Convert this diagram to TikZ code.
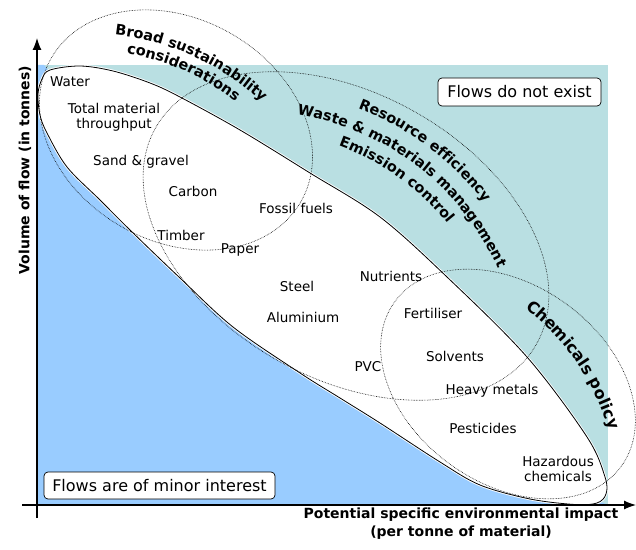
\documentclass[tikz,border=0pt]{standalone}
\usepackage{fontspec}
\setmainfont{DejaVu Sans}
\usetikzlibrary{arrows.meta,decorations.text}
\definecolor{noflow}{RGB}{185,223,226}
\definecolor{minorflow}{RGB}{153,204,255}

\begin{document}
\begin{tikzpicture}[x=1pt, y=1pt,
    item/.style={font=\fontsize{13.5}{15}\selectfont, align=center, inner sep=1pt},
    flowbox/.style={draw, fill=white, rounded corners=4pt, line width=0.7pt,
                    font=\fontsize{16}{18}\selectfont, inner sep=2pt},
    policy/.style={densely dotted, line width=0.6pt},
    axislabel/.style={font=\fontsize{14}{18}\selectfont\bfseries, align=center},
    >={Latex[length=12pt,width=9pt]}]
  \useasboundingbox (0,0) rectangle (636,549);

  % regions
  \fill[noflow] (37,44) rectangle (608,484);
  \fill[minorflow] (37,484) -- (44,484) -- (60,464) -- (596,49) -- (608,44) -- (37,44) -- cycle;

  % band of relevant flows
  \draw[fill=white, line width=0.8pt, preaction={draw=white, line width=2.6pt}]
    plot[smooth cycle, tension=0.55] coordinates {(38,455) (42,470) (50,479) (80,483)
      (113,478) (150,466) (180,452) (240,419) (310,376) (380,332) (447,272) (527,192)
      (587,112) (605,72) (606,55) (597,46) (575,44.5) (530,50) (480,64) (440,87)
      (380,126) (340,151) (300,176) (233,222) (180,271) (130,319) (100,349) (67,382)
      (47,416) (40,434)};

  % policy fields
  \draw[policy, rotate around={-30:(176,419)}] (176,419) ellipse[x radius=144, y radius=111];
  \draw[policy, rotate around={-29.7:(346,313)}] (346,313) ellipse[x radius=219, y radius=142];
  \draw[policy, rotate around={-36:(508,165)}] (508,165) ellipse[x radius=140, y radius=99];

  \path[shift={(86,258)}, decorate, decoration={text along path, text align=center,
      text={|\fontsize{14.5}{17}\selectfont\bfseries|Broad sustainability}}]
    (105.3:258) arc[start angle=105.3, end angle=25.3, radius=258];
  \path[shift={(86,258)}, decorate, decoration={text along path, text align=center,
      text={|\fontsize{14.5}{17}\selectfont\bfseries|considerations}}]
    (106:241) arc[start angle=106, end angle=26, radius=241];

  \path[shift={(254,170)}, decorate, decoration={text along path, text align=center,
      text={|\fontsize{14.5}{17}\selectfont\bfseries|Resource efficiency}}]
    (93.2:290) arc[start angle=93.2, end angle=13.2, radius=290];
  \path[shift={(254,170)}, decorate, decoration={text along path, text align=center,
      text={|\fontsize{14.5}{17}\selectfont\bfseries|Waste {\&} materials management}}]
    (92.6:268) arc[start angle=92.6, end angle=12.6, radius=268];
  \path[shift={(254,170)}, decorate, decoration={text along path, text align=center,
      text={|\fontsize{14.5}{17}\selectfont\bfseries|Emission control}}]
    (94.4:248) arc[start angle=94.4, end angle=14.4, radius=248];

  \path[shift={(379,50)}, decorate, decoration={text along path, text align=center,
      text={|\fontsize{16}{18}\selectfont\bfseries|Chemicals policy}}]
    (69.6:240.5) arc[start angle=69.6, end angle=-0.4, radius=240.5];

  % materials
  \node[item] (water) at (70,467) {Water};
  \node[item] (total) at (114,432) {Total material\\throughput};
  \node[item] (sand) at (141,387) {Sand \& gravel};
  \node[item] (carbon) at (193,358) {Carbon};
  \node[item] (fossil) at (296,341) {Fossil fuels};
  \node[item] (timber) at (181,314) {Timber};
  \node[item] (paper) at (240,299) {Paper};
  \node[item] (steel) at (297,263) {Steel};
  \node[item] (alu) at (303,232) {Aluminium};
  \node[item] (nutrients) at (391,273) {Nutrients};
  \node[item] (pvc) at (368,182) {PVC};
  \node[item] (fert) at (433,236) {Fertiliser};
  \node[item] (solv) at (455,193) {Solvents};
  \node[item] (heavy) at (492,158) {Heavy metals};
  \node[item] (pest) at (483,121) {Pesticides};
  \node[item] (haz) at (558,80) {Hazardous\\chemicals};

  \node[flowbox, minimum width=163pt, minimum height=28pt] (noexist) at (519.5,457) {Flows do not exist};
  \node[flowbox, minimum width=231pt, minimum height=27pt] (minorbox) at (159.5,63.5) {Flows are of minor interest};

  % axes
  \coordinate (ybot) at (37,31);
  \coordinate (ytop) at (37,511);
  \coordinate (xleft) at (22,44);
  \coordinate (xright) at (636,44);
  \draw[->, line width=1.2pt] (ybot) -- (ytop);
  \draw[->, line width=1.2pt] (xleft) -- (xright);

  \node[axislabel, rotate=90] (ylab) at (25,379) {Volume of flow (in tonnes)};
  \node[axislabel] (xlab) at (461,25) {Potential specific environmental impact\\(per tonne of material)};
\end{tikzpicture}
\end{document}
